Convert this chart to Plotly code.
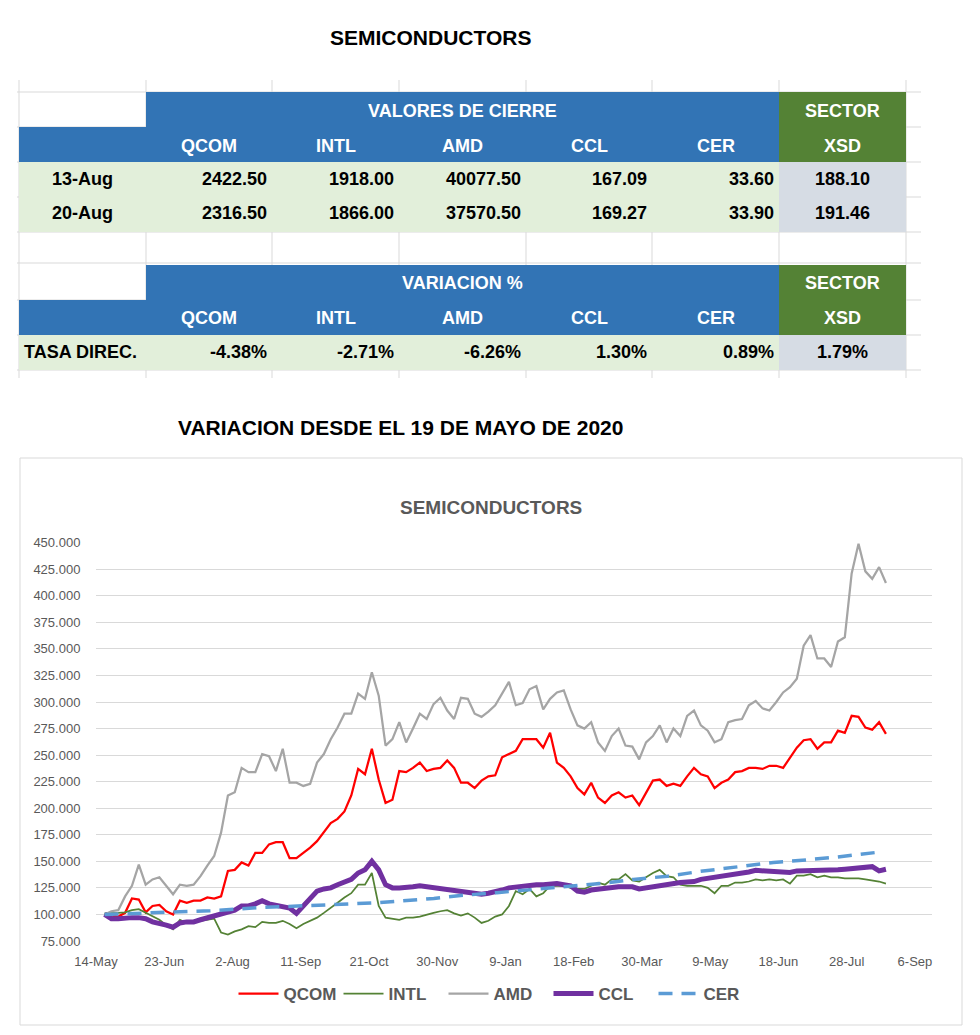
import plotly.graph_objects as go
import pandas as pd

# page has an 8px body margin: draw a 972x1027 figure so that it fills the 980x1035 window
OFF = 8
W, H = 980 - OFF, 1035 - OFF

# ---------------- table data ----------------
tickers = ["QCOM", "INTL", "AMD", "CCL", "CER"]
sector_name = "XSD"
close_dates = ["13-Aug", "20-Aug"]
close_13aug = [2422.50, 1918.00, 40077.50, 167.09, 33.60]
close_20aug = [2316.50, 1866.00, 37570.50, 169.27, 33.90]
sector_close = [188.10, 191.46]
variation_pct = [-4.38, -2.71, -6.26, 1.30, 0.89]
sector_variation = 1.79

# ---------------- chart data (base 100 = 19-May-2020) ----------------
series_dates = pd.date_range("2020-05-19", "2021-08-20", periods=115)

qcom = [100, 99, 98, 101.5, 115, 114, 102, 108, 109, 103, 100, 113, 111, 113, 113, 116, 115, 117, 141, 142, 149, 146, 158, 158, 166,
        168, 168, 153, 153, 158, 163, 169, 177, 186, 190, 197, 212, 237, 232, 256, 227, 205, 208, 235, 234, 238, 243, 235, 237,
        238, 245, 238, 224, 224, 219, 226, 230, 231, 248, 251, 254, 265, 265, 265, 257, 271, 243, 238, 230, 219, 213, 224, 210, 205, 212,
        215, 210, 212, 203, 215, 226, 227, 221, 223, 221, 230, 238, 232, 230, 219, 224, 227, 234, 235, 238, 238, 237, 240, 240, 238,
        248, 257, 264, 265, 256, 262, 262, 273, 271, 287, 286, 276, 274, 281, 270]

intl = [101, 101, 101.5, 102, 104, 105, 101.5, 98, 95, 90, 86, 95, 92, 93, 94, 95, 96, 83, 81, 84, 86, 89, 88, 93, 92,
        92, 94, 91, 87, 91, 94, 97, 101.5, 106, 111, 116, 120, 128, 128, 139, 108, 97, 96, 95, 97, 97, 98, 100, 101.5,
        103, 104, 101, 99, 101, 97, 92, 94, 98, 100, 108, 122, 119, 124, 117, 120, 127, 127, 127, 125, 124, 124, 127, 130, 128, 133,
        133, 138, 132, 131, 135, 139, 142, 136, 135, 128, 127, 127, 127, 125, 120, 127, 127, 130, 130, 131, 133, 132, 133, 132, 133,
        129, 136.5, 136.5, 138, 135, 136.5, 135, 135, 134, 134, 134, 133, 132, 131, 129]

amd = [100, 103, 104, 117, 127, 147, 128, 133, 135, 127, 119, 128, 127, 128, 136, 146, 155, 177, 212, 215, 238, 234, 234, 251, 249,
       235, 256, 224, 224, 221, 223, 243, 251, 265, 276, 289, 289, 308, 303, 328, 306, 259, 265, 281, 262, 275, 289, 284, 298,
       304, 292, 284, 304, 303, 289, 286, 291, 297, 308, 319, 297, 299, 312, 315, 293, 303, 309, 311, 293, 278, 275, 281, 262, 254, 268,
       275, 259, 258, 246, 262, 268, 278, 262, 275, 268, 287, 292, 278, 273, 262, 265, 281, 283, 284, 297, 301, 294, 292, 300, 309,
       314, 322, 353, 363, 341, 341, 333, 357, 361, 421, 449, 423, 416, 427, 412]

ccl = [100, 96, 96, 97, 97, 97, 96, 93, 92, 90, 88, 92, 93, 93, 95, 97, 99, 101, 102, 104, 108, 108, 110, 113, 110,
       109, 108, 106, 101, 108, 116, 122, 124, 125, 128, 130, 133, 139, 142, 150, 142, 128, 125, 125, 125, 126, 127, 126, 126,
       124, 123, 122, 121, 120, 119.5, 119, 120, 121, 123, 125, 126, 127, 127, 128, 128, 129, 129, 128, 127, 122, 121, 123, 124, 125, 126,
       126, 126, 126, 124, 125, 127, 128, 129, 130, 130, 130.5, 131, 133, 134, 135, 135.5, 136, 138, 139, 140, 141.5, 141, 140, 140, 140,
       139.5, 141, 141, 142, 141, 141, 141, 142, 142.5, 143, 144, 145, 145, 141, 142.5]

cer_dates = ["2020-05-19", "2020-06-20", "2020-07-20", "2020-08-18", "2020-09-26", "2020-10-26", "2020-11-28",
             "2020-12-15", "2021-01-04", "2021-01-23", "2021-02-12", "2021-03-11", "2021-03-25", "2021-04-14",
             "2021-05-03", "2021-05-26", "2021-06-15", "2021-07-02", "2021-07-22", "2021-08-15"]
cer = [100, 101.5, 103.5, 106.5, 109, 111, 115, 118, 120.5, 123, 126, 130, 133, 136, 140.5, 145, 149, 151, 154, 158.5]

x_tickvals = ["2020-05-14", "2020-06-23", "2020-08-02", "2020-09-11", "2020-10-21", "2020-11-30", "2021-01-09",
              "2021-02-18", "2021-03-30", "2021-05-09", "2021-06-18", "2021-07-28", "2021-09-06"]
x_ticktext = ["14-May", "23-Jun", "2-Aug", "11-Sep", "21-Oct", "30-Nov", "9-Jan",
              "18-Feb", "30-Mar", "9-May", "18-Jun", "28-Jul", "6-Sep"]
y_tickvals = [75, 100, 125, 150, 175, 200, 225, 250, 275, 300, 325, 350, 375, 400, 425, 450]


# ---------------- helpers (window pixel -> paper fraction) ----------------
def X(px):
    return (px - OFF) / W


def Y(py):
    return 1 - (py - OFF) / H


FONT = "Liberation Sans, Arial, sans-serif"
BLUE = "#3274B5"
GREEN = "#548235"
LIGHT_GREEN = "#E2EFDA"
LIGHT_GRAY_BLUE = "#D6DCE4"
GRID = "#D9D9D9"
TXT_GRAY = "#595959"

shapes = []
annotations = []


def rect(x0, y0, x1, y1, fill):
    shapes.append(dict(type="rect", xref="paper", yref="paper",
                       x0=X(x0), x1=X(x1), y0=Y(y1), y1=Y(y0),
                       fillcolor=fill, line=dict(width=0, color=fill), layer="above"))


def hline(y, x0, x1, color=GRID):
    shapes.append(dict(type="line", xref="paper", yref="paper", x0=X(x0), x1=X(x1), y0=Y(y), y1=Y(y),
                       line=dict(color=color, width=1), layer="above"))


def vline(x, y0, y1, color=GRID):
    shapes.append(dict(type="line", xref="paper", yref="paper", x0=X(x), x1=X(x), y0=Y(y0), y1=Y(y1),
                       line=dict(color=color, width=1), layer="above"))


def text(t, px, py, size=18, color="black", anchor="center"):
    annotations.append(dict(text="<b>%s</b>" % t, xref="paper", yref="paper", x=X(px), y=Y(py),
                            xanchor=anchor, yanchor="middle", showarrow=False,
                            font=dict(family=FONT, size=size, color=color)))


cols = [19, 146, 272, 399, 526, 652, 779, 906]

# sheet gridlines
for cx in cols:
    vline(cx, 80, 378)
for ry in [92, 127, 162, 197, 232, 263, 300, 335, 370]:
    hline(ry, 17, 921)


def header_block(top, title):
    r1, r2, r3 = top, top + 35, top + 70
    rect(cols[1], r1, cols[6], r2, BLUE)
    rect(cols[0], r2, cols[6], r3, BLUE)
    rect(cols[6], r1, cols[7], r3, GREEN)
    text(title, (cols[1] + cols[6]) / 2, (r1 + r2) / 2 + 1, color="white")
    text("SECTOR", (cols[6] + cols[7]) / 2, (r1 + r2) / 2 + 1, color="white")
    for k, tk in enumerate(tickers):
        text(tk, (cols[k + 1] + cols[k + 2]) / 2, (r2 + r3) / 2 + 1, color="white")
    text(sector_name, (cols[6] + cols[7]) / 2, (r2 + r3) / 2 + 1, color="white")
    return r3


# table 1
r = header_block(92, "VALORES DE CIERRE")
rect(cols[0], r, cols[6], r + 70, LIGHT_GREEN)
rect(cols[6], r, cols[7], r + 70, LIGHT_GRAY_BLUE)
for j, (lab, vals) in enumerate(zip(close_dates, [close_13aug, close_20aug])):
    cy = r + 17 + 34 * j
    text(lab, (cols[0] + cols[1]) / 2, cy)
    for k, v in enumerate(vals):
        text("%.2f" % v, cols[k + 2] - 3, cy, anchor="right")
    text("%.2f" % sector_close[j], (cols[6] + cols[7]) / 2, cy)

# table 2
r = header_block(265, "VARIACION %")
rect(cols[0], r, cols[6], r + 35, LIGHT_GREEN)
rect(cols[6], r, cols[7], r + 35, LIGHT_GRAY_BLUE)
cy = r + 17
text("TASA DIREC.", 22, cy, anchor="left")
for k, v in enumerate(variation_pct):
    text("%.2f%%" % v, cols[k + 2] - 3, cy, anchor="right")
text("%.2f%%" % sector_variation, (cols[6] + cols[7]) / 2, cy)

# titles
text("SEMICONDUCTORS", 430, 38, size=21)
text("VARIACION DESDE EL 19 DE MAYO DE 2020", 400, 427, size=21)

# chart box and title
shapes.append(dict(type="rect", xref="paper", yref="paper", x0=X(20), x1=X(962), y0=Y(1025), y1=Y(458),
                   line=dict(color=GRID, width=1), fillcolor="rgba(0,0,0,0)", layer="below"))
text("SEMICONDUCTORS", 491, 507, size=19, color=TXT_GRAY)

# ---------------- figure ----------------
fig = go.Figure()
fig.add_trace(go.Scatter(x=series_dates, y=qcom, name="QCOM", mode="lines",
                         line=dict(color="#FF0000", width=2.25)))
fig.add_trace(go.Scatter(x=series_dates, y=intl, name="INTL", mode="lines",
                         line=dict(color=GREEN, width=1.75)))
fig.add_trace(go.Scatter(x=series_dates, y=amd, name="AMD", mode="lines",
                         line=dict(color="#A5A5A5", width=2.25)))
fig.add_trace(go.Scatter(x=series_dates, y=ccl, name="CCL", mode="lines",
                         line=dict(color="#7030A0", width=5)))
fig.add_trace(go.Scatter(x=cer_dates, y=cer, name="CER", mode="lines",
                         line=dict(color="#5B9BD5", width=3.5, dash="14px,9px")))

fig.update_layout(
    template="none",
    width=W, height=H, autosize=False,
    margin=dict(l=0, r=0, t=0, b=0, pad=0, autoexpand=False),
    paper_bgcolor="white", plot_bgcolor="white",
    font=dict(family=FONT, color=TXT_GRAY),
    shapes=shapes, annotations=annotations,
    showlegend=True,
    legend=dict(orientation="h", x=X(496), xanchor="center", y=Y(994), yanchor="middle",
                font=dict(family=FONT, size=17, color=TXT_GRAY, weight="bold"),
                bgcolor="rgba(0,0,0,0)", itemwidth=40, entrywidth=50),
    xaxis=dict(domain=[X(96), X(932)], type="date", range=["2020-05-14", "2021-09-16"],
               tickvals=x_tickvals, ticktext=x_ticktext, showgrid=False, zeroline=False,
               showline=False, ticks="outside", ticklen=8, tickcolor="rgba(0,0,0,0)", automargin=False,
               tickfont=dict(family=FONT, size=13, color=TXT_GRAY)),
    yaxis=dict(domain=[Y(941), Y(542.7)], range=[75, 450], tickvals=y_tickvals, tickformat=".3f",
               showgrid=True, gridcolor=GRID, gridwidth=1, zeroline=False, showline=False,
               ticks="outside", ticklen=12, tickcolor="rgba(0,0,0,0)", automargin=False,
               tickfont=dict(family=FONT, size=13, color=TXT_GRAY)),
)

fig.write_html("out.html")
